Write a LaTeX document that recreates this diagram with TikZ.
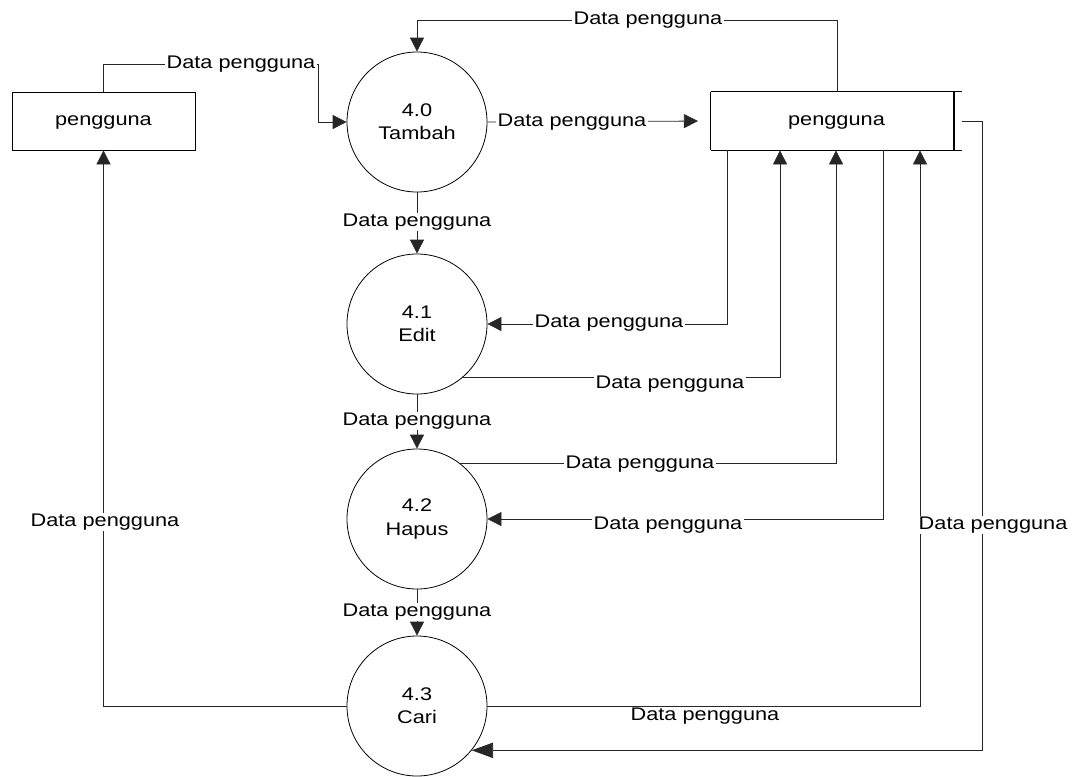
\documentclass[tikz,border=0pt]{standalone}
\usepackage{fontspec}
\setmainfont[FakeStretch=1.19]{Liberation Sans}
\usetikzlibrary{arrows.meta}
\begin{document}
\begin{tikzpicture}[x=0.75pt,y=-0.75pt,
  font=\fontsize{13.7pt}{17.3pt}\selectfont,
  line width=0.6pt,
  flow/.style={draw=black!85,-{Triangle[length=10.5pt,width=10.5pt]}},
  flowbig/.style={draw=black!85,-{Triangle[length=16pt,width=11.5pt]}},
  proc/.style={circle,draw,line width=0.6pt,minimum size=105pt,inner sep=0pt,align=center},
  entity/.style={rectangle,draw,line width=0.6pt,minimum width=137.25pt,minimum height=43.5pt,inner sep=0pt,text depth=0pt},
  lab/.style={fill=white,inner xsep=1pt,inner ysep=0.5pt}]
\useasboundingbox (0,0) rectangle (1073,776);
\clip (0,0) rectangle (1073,776);

% external entity and data store
\node[entity] (ent) at (103.5,121) {pengguna};
\node[minimum width=188.25pt,minimum height=43.5pt,inner sep=0pt,text depth=0pt] (store) at (836.5,121) {pengguna};
\draw (store.north west) -- (store.north east);
\draw (store.south west) -- (store.south east);
\draw (store.north west) -- (store.south west);
\draw[line width=1.5pt] ([xshift=-6pt]store.north east) -- ([xshift=-6pt]store.south east);

% processes
\node[proc] (p40) at (417,122) {4.0\\Tambah};
\node[proc] (p41) at (417,324) {4.1\\Edit};
\node[proc] (p42) at (417,519) {4.2\\Hapus};
\node[proc] (p43) at (417,706) {4.3\\Cari};

% data flows
\draw[flow] (ent.north) |- (318,64) |- (p40.west);
\draw[flow,shorten >=9.5pt] (p40.east) -- (store.west);
\draw[flow] (store.north -| 837,0) -- (837,20) -| (p40.north);
\draw[flow] (p40.south) -- (p41.north);
\draw[flow] (store.south -| 727,0) |- (p41.east);
\draw[flow] (p41.-49) -| (store.south -| 780,0);
\draw[flow] (p41.south) -- (p42.north);
\draw[flow] (p42.52) -| (store.south -| 836,0);
\draw[flow] (store.south -| 883,0) |- (p42.east);
\draw[flow] (p42.south) -- (p43.north);
\draw[flow] (p43.west) -| (ent.south);
\draw[flow] (p43.east) -| (store.south -| 920,0);
\draw[flowbig] (store.east) -- (982,121) |- (p43.-39);

% flow labels
\node[lab] (l1) at (241,64) {Data pengguna};
\node[lab] (l2) at (572,122) {Data pengguna};
\node[lab] (l3) at (648,20) {Data pengguna};
\node[lab] (l4) at (417,222) {Data pengguna};
\node[lab] (l5) at (609,323) {Data pengguna};
\node[lab] (l6) at (670,384) {Data pengguna};
\node[lab] (l7) at (417,421) {Data pengguna};
\node[lab] (l8) at (640,464) {Data pengguna};
\node[lab] (l9) at (668,525) {Data pengguna};
\node[lab] (l10) at (417,612) {Data pengguna};
\node[lab] (l11) at (105,522) {Data pengguna};
\node[lab] (l12) at (705,716) {Data pengguna};
\node[lab,anchor=west] (l13) at (917,525) {Data pengguna};
\end{tikzpicture}
\end{document}
